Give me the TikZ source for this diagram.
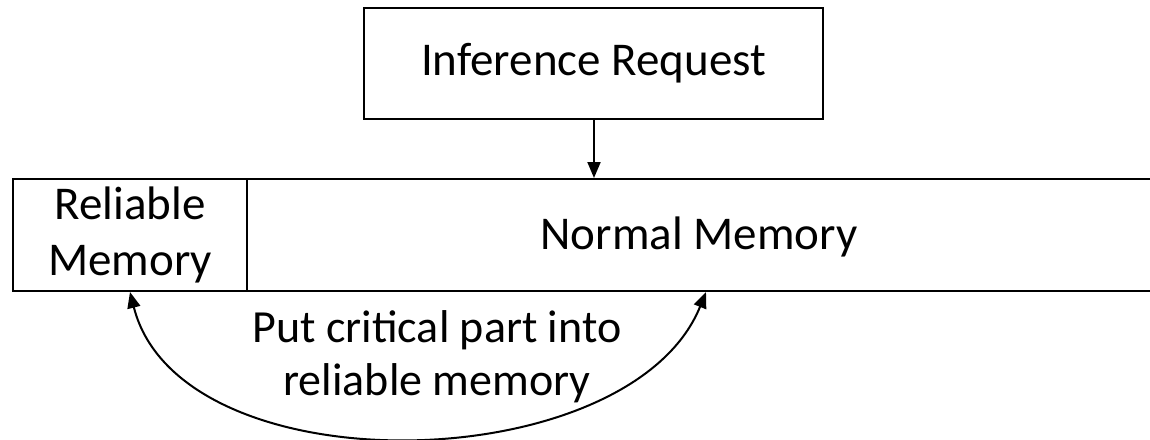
\documentclass[tikz,border=0pt]{standalone}
\usepackage{fontspec}
\setmainfont{Carlito}
\usetikzlibrary{arrows.meta}
\begin{document}
\begin{tikzpicture}[x=1pt,y=-1pt,
  box/.style={draw,line width=2pt,rectangle,inner sep=0pt,anchor=north west,align=center},
  lbl/.style={font=\fontsize{47}{56}\selectfont},
  tip/.tip={Triangle[length=16pt,width=13pt]},
  arr/.style={line width=2pt,-tip}]
\useasboundingbox (0,0) rectangle (1150,439);
\clip (0,0) rectangle (1150,439);
\node[box,lbl,minimum width=459pt,minimum height=111pt] (req) at (363,7) {Inference Request};
\node[box,lbl,minimum width=234pt,minimum height=112pt] (rel) at (12,178) {Reliable\\Memory};
\node[box,lbl,minimum width=930pt,minimum height=112pt] (nor) at (246,178) {};
\node[lbl] (nortxt) at (699,237) {Normal Memory};
\coordinate (a) at (130,292);
\coordinate (b) at (706,292);
\draw[arr] (req.south -| 594,0) -- (nor.north -| 594,0);
\draw[line width=2pt,tip-tip] (a) .. controls (180,490) and (630,480) .. (b);
\node[lbl,align=center,font=\fontsize{46}{53}\selectfont] (put) at (437,357) {Put critical part into\\reliable memory};
\end{tikzpicture}
\end{document}
